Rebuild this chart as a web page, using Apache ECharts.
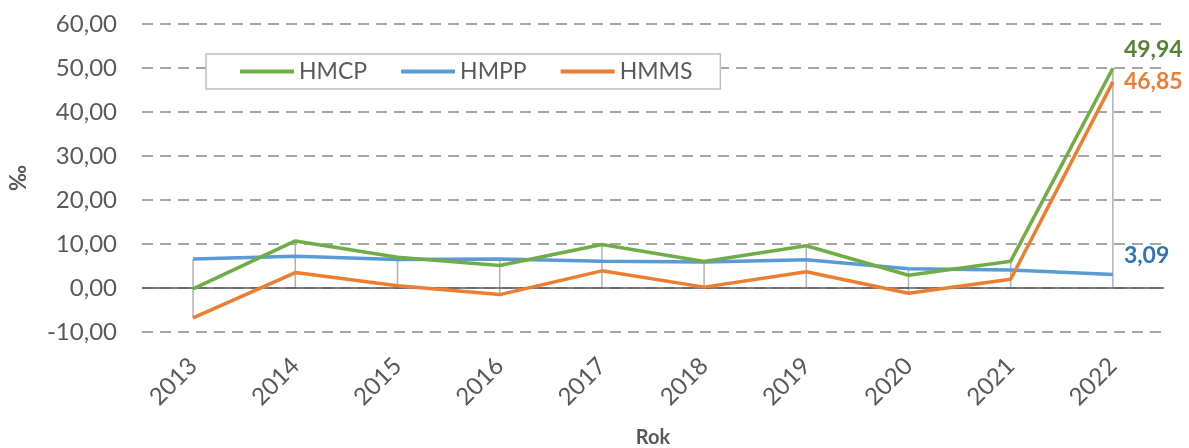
<!DOCTYPE html>
<html lang="pl">
<head>
  <meta charset="utf-8">
  <title>HMCP HMPP HMMS</title>
  <script src="https://cdn.jsdelivr.net/npm/echarts@6/dist/echarts.min.js"></script>
  <style>
    html, body { margin: 0; padding: 0; background: #fff; }
    #main { width: 1189px; height: 448px; }
  </style>
</head>
<body>
<div id="main"></div>
<script type="text/javascript">
// dane (‰)
var years = ['2013', '2014', '2015', '2016', '2017', '2018', '2019', '2020', '2021', '2022'];
var hmcp = [-0.2, 10.7, 7.0, 5.1, 9.9, 6.0, 9.6, 2.9, 6.1, 49.94];
var hmpp = [6.6, 7.2, 6.5, 6.6, 6.1, 5.9, 6.4, 4.4, 4.1, 3.09];
var hmms = [-6.8, 3.5, 0.5, -1.5, 3.9, 0.2, 3.7, -1.2, 2.0, 46.85];
var yTicks = { min: -10, max: 60, step: 10 };

var font = 'Lato, "Open Sans", "Liberation Sans", sans-serif';
var grey = '#595959';

function fmt(v) { return v.toFixed(2).replace('.', ','); }

// linie pionowe od punktow do osi (jak w excelu)
var dropData = years.map(function (y, i) {
  var vals = [hmcp[i], hmpp[i], hmms[i], 0];
  return [i, Math.min.apply(null, vals), Math.max.apply(null, vals)];
});

function endLabel(color, offset) {
  return {
    show: true, distance: 11, offset: offset,
    color: color, fontFamily: font, fontWeight: 'bold', fontSize: 23,
    formatter: function (p) { return fmt(p.value); }
  };
}

var chart = echarts.init(document.getElementById('main'));

var option = {
  animation: false,
  grid: { left: 142, right: 25, top: 24, bottom: 116, outerBoundsMode: 'none', containLabel: false },
  legend: {
    left: 206, top: 54,
    padding: [6, 28, 6, 34],
    itemGap: 34,
    itemWidth: 54, itemHeight: 4,
    icon: 'rect',
    backgroundColor: '#fff',
    borderColor: '#bfbfbf', borderWidth: 1.5,
    textStyle: { color: grey, fontFamily: font, fontSize: 23 },
    data: ['HMCP', 'HMPP', 'HMMS']
  },
  xAxis: {
    type: 'category',
    data: years,
    boundaryGap: true,
    name: 'Rok',
    nameLocation: 'middle',
    nameGap: 96,
    nameTextStyle: { color: grey, fontFamily: font, fontWeight: 'bold', fontSize: 20 },
    axisLine: { show: false, onZero: false },
    axisTick: { show: false },
    axisLabel: { rotate: 45, margin: 30, color: grey, fontFamily: font, fontSize: 24 }
  },
  yAxis: {
    type: 'value',
    min: yTicks.min, max: yTicks.max, interval: yTicks.step,
    name: '‰',
    nameLocation: 'middle',
    nameGap: 112,
    nameRotate: 90,
    nameTextStyle: { color: grey, fontFamily: font, fontWeight: 'bold', fontSize: 22 },
    axisLine: { show: false },
    axisTick: { show: false },
    axisLabel: { margin: 25, color: grey, fontFamily: font, fontSize: 24, formatter: fmt },
    splitLine: { lineStyle: { color: '#a6a6a6', width: 2, type: [11, 7] } }
  },
  series: [
    {
      type: 'custom',
      silent: true,
      z: 1,
      encode: { x: 0, y: [1, 2] },
      data: dropData,
      renderItem: function (params, api) {
        var a = api.coord([api.value(0), api.value(1)]);
        var b = api.coord([api.value(0), api.value(2)]);
        return {
          type: 'line',
          shape: { x1: a[0], y1: a[1], x2: b[0], y2: b[1] },
          style: { stroke: '#b0b0b0', lineWidth: 1.5 }
        };
      }
    },
    {
      name: 'HMCP', type: 'line', showSymbol: false, symbol: 'none', z: 4,
      color: '#70ad47', lineStyle: { width: 3.5, color: '#70ad47' },
      data: hmcp,
      endLabel: endLabel('#548235', [0, -19]),
      markLine: {
        silent: true, symbol: 'none', z: 2,
        label: { show: false },
        lineStyle: { color: grey, width: 1.5, type: 'solid' },
        data: [{ yAxis: 0 }]
      }
    },
    {
      name: 'HMPP', type: 'line', showSymbol: false, symbol: 'none', z: 3,
      color: '#5b9bd5', lineStyle: { width: 3.5, color: '#5b9bd5' },
      data: hmpp,
      endLabel: endLabel('#2e75b6', [0, -19])
    },
    {
      name: 'HMMS', type: 'line', showSymbol: false, symbol: 'none', z: 3,
      color: '#ed7d31', lineStyle: { width: 3.5, color: '#ed7d31' },
      data: hmms,
      endLabel: endLabel('#ed7d31', [0, 0])
    }
  ]
};

chart.setOption(option);
</script>
</body>
</html>
